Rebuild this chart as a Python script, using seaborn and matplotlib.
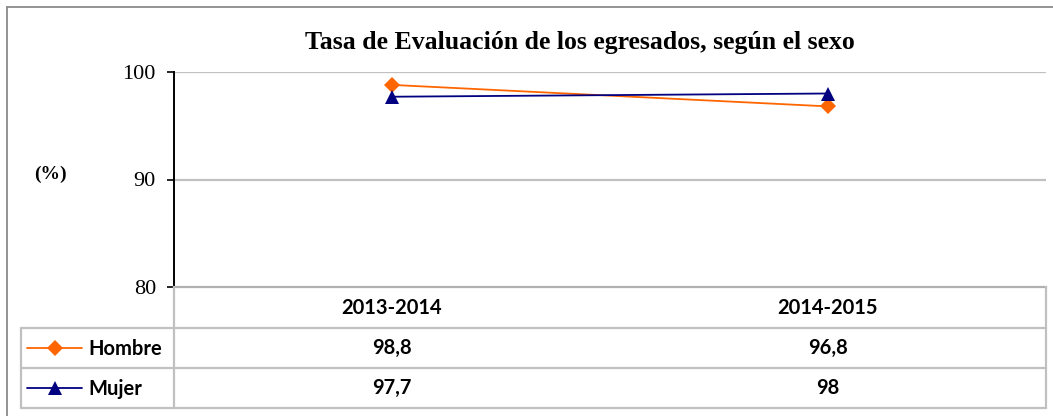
import matplotlib
matplotlib.use("Agg")
import matplotlib.pyplot as plt
import matplotlib.lines as mlines
import pandas as pd
import seaborn as sns

# Data
periods = ["2013-2014", "2014-2015"]
series_names = ["Hombre", "Mujer"]
hombre = [98.8, 96.8]
mujer = [97.7, 98.0]
hombre_labels = ["98,8", "96,8"]
mujer_labels = ["97,7", "98"]
y_ticks = [80, 90, 100]

colors = {"Hombre": "#FF6600", "Mujer": "#000080"}
markers = {"Hombre": "D", "Mujer": "^"}

df = pd.DataFrame({
    "Periodo": periods * 2,
    "Sexo": ["Hombre"] * len(periods) + ["Mujer"] * len(periods),
    "Tasa": hombre + mujer,
})

sns.set_theme(style="white")
plt.rcParams["font.family"] = ["DejaVu Sans"]

W, H = 1053, 416
fig = plt.figure(figsize=(W / 100, H / 100), dpi=100)


def fx(x):
    return x / W


def fy(y):
    return 1 - y / H


# plot area in pixel coordinates
L, R, T, B = 174, 1046, 72, 287
ax = fig.add_axes([fx(L), fy(B), fx(R) - fx(L), fy(T) - fy(B)])

sizes = {"Hombre": 8, "Mujer": 9.5}
sns.lineplot(data=df, x="Periodo", y="Tasa", hue="Sexo", style="Sexo",
             palette=colors, markers=markers, dashes=False,
             markersize=8, linewidth=1.3, markeredgewidth=0,
             legend=False, ax=ax)
for line, name in zip(ax.get_lines(), series_names):
    line.set_markersize(sizes[name])

ax.set_xlim(-0.5, len(periods) - 0.5)
ax.set_ylim(y_ticks[0], y_ticks[-1])
ax.set_yticks(y_ticks)
ax.set_yticklabels([str(t) for t in y_ticks], family="Liberation Serif",
                   fontsize=16, color="#000000")
ax.set_xticks([])
ax.set_xlabel("")
ax.set_ylabel("")
ax.tick_params(axis="y", direction="out", length=5, width=1.2,
               color="#000000", pad=8, left=True)
for yv in y_ticks[1:]:
    ax.axhline(yv, color="#c0c0c0", lw=1.6, zorder=0)
for side in ["top", "right"]:
    ax.spines[side].set_visible(False)
ax.spines["left"].set_color("#000000")
ax.spines["left"].set_linewidth(1.4)
ax.spines["bottom"].set_color("#b0b0b0")
ax.spines["bottom"].set_linewidth(1.6)
ax.patch.set_alpha(0)

# title and axis caption
fig.text(fx(580), fy(43), "Tasa de Evaluación de los egresados, según el sexo",
         family="Liberation Serif", fontweight="bold", fontsize=18.5,
         color="#000000", ha="center", va="center")
fig.text(fx(50), fy(174), "(%)", family="Liberation Serif",
         fontweight="bold", fontsize=14, color="#000000",
         ha="center", va="center")

# outer frame
frame_c = "#8a8a8a"
fig.add_artist(mlines.Line2D([fx(7), fx(7)], [fy(7), fy(416)],
                             color=frame_c, lw=1.3, transform=fig.transFigure))
fig.add_artist(mlines.Line2D([fx(7), fx(1053)], [fy(7), fy(7)],
                             color=frame_c, lw=1.3, transform=fig.transFigure))

# data table beneath the plot
grid_c = "#c0c0c0"


def hline(x0, x1, y):
    fig.add_artist(mlines.Line2D([fx(x0), fx(x1)], [fy(y), fy(y)],
                                 color=grid_c, lw=1.6, transform=fig.transFigure))


def vline(x, y0, y1):
    fig.add_artist(mlines.Line2D([fx(x), fx(x)], [fy(y0), fy(y1)],
                                 color=grid_c, lw=1.6, transform=fig.transFigure))


TL = 21
rows_y = [287, 328, 368, 408]
hline(TL, R, rows_y[1])
hline(TL, R, rows_y[2])
hline(TL, R, rows_y[3])
vline(L, rows_y[0], rows_y[3])
vline(R, rows_y[0], rows_y[3])
vline(TL, rows_y[1], rows_y[3])

table_font = dict(family="Lato", fontweight="bold", fontsize=14.5,
                  color="#000000", ha="center", va="center")
col_w = (R - L) / len(periods)
centers = [L + col_w * (i + 0.5) for i in range(len(periods))]
for c, p in zip(centers, periods):
    fig.text(fx(c), fy(308), p, **table_font)

row_labels = [hombre_labels, mujer_labels]
for r, (name, labels) in enumerate(zip(series_names, row_labels)):
    yc = (rows_y[r + 1] + rows_y[r + 2]) / 2
    for c, lab in zip(centers, labels):
        fig.text(fx(c), fy(yc), lab, **table_font)
    # legend key
    fig.add_artist(mlines.Line2D([fx(27), fx(82)], [fy(yc), fy(yc)],
                                 color=colors[name], lw=1.3,
                                 transform=fig.transFigure))
    fig.add_artist(mlines.Line2D([fx(54.5)], [fy(yc)], marker=markers[name],
                                 markersize=sizes[name],
                                 markeredgewidth=0, color=colors[name],
                                 transform=fig.transFigure))
    fig.text(fx(88), fy(yc + 1), name, family="Lato", fontweight="bold",
             fontsize=14.5, color="#000000", ha="left", va="center")

fig.savefig("out.png", dpi=100, facecolor="white")
